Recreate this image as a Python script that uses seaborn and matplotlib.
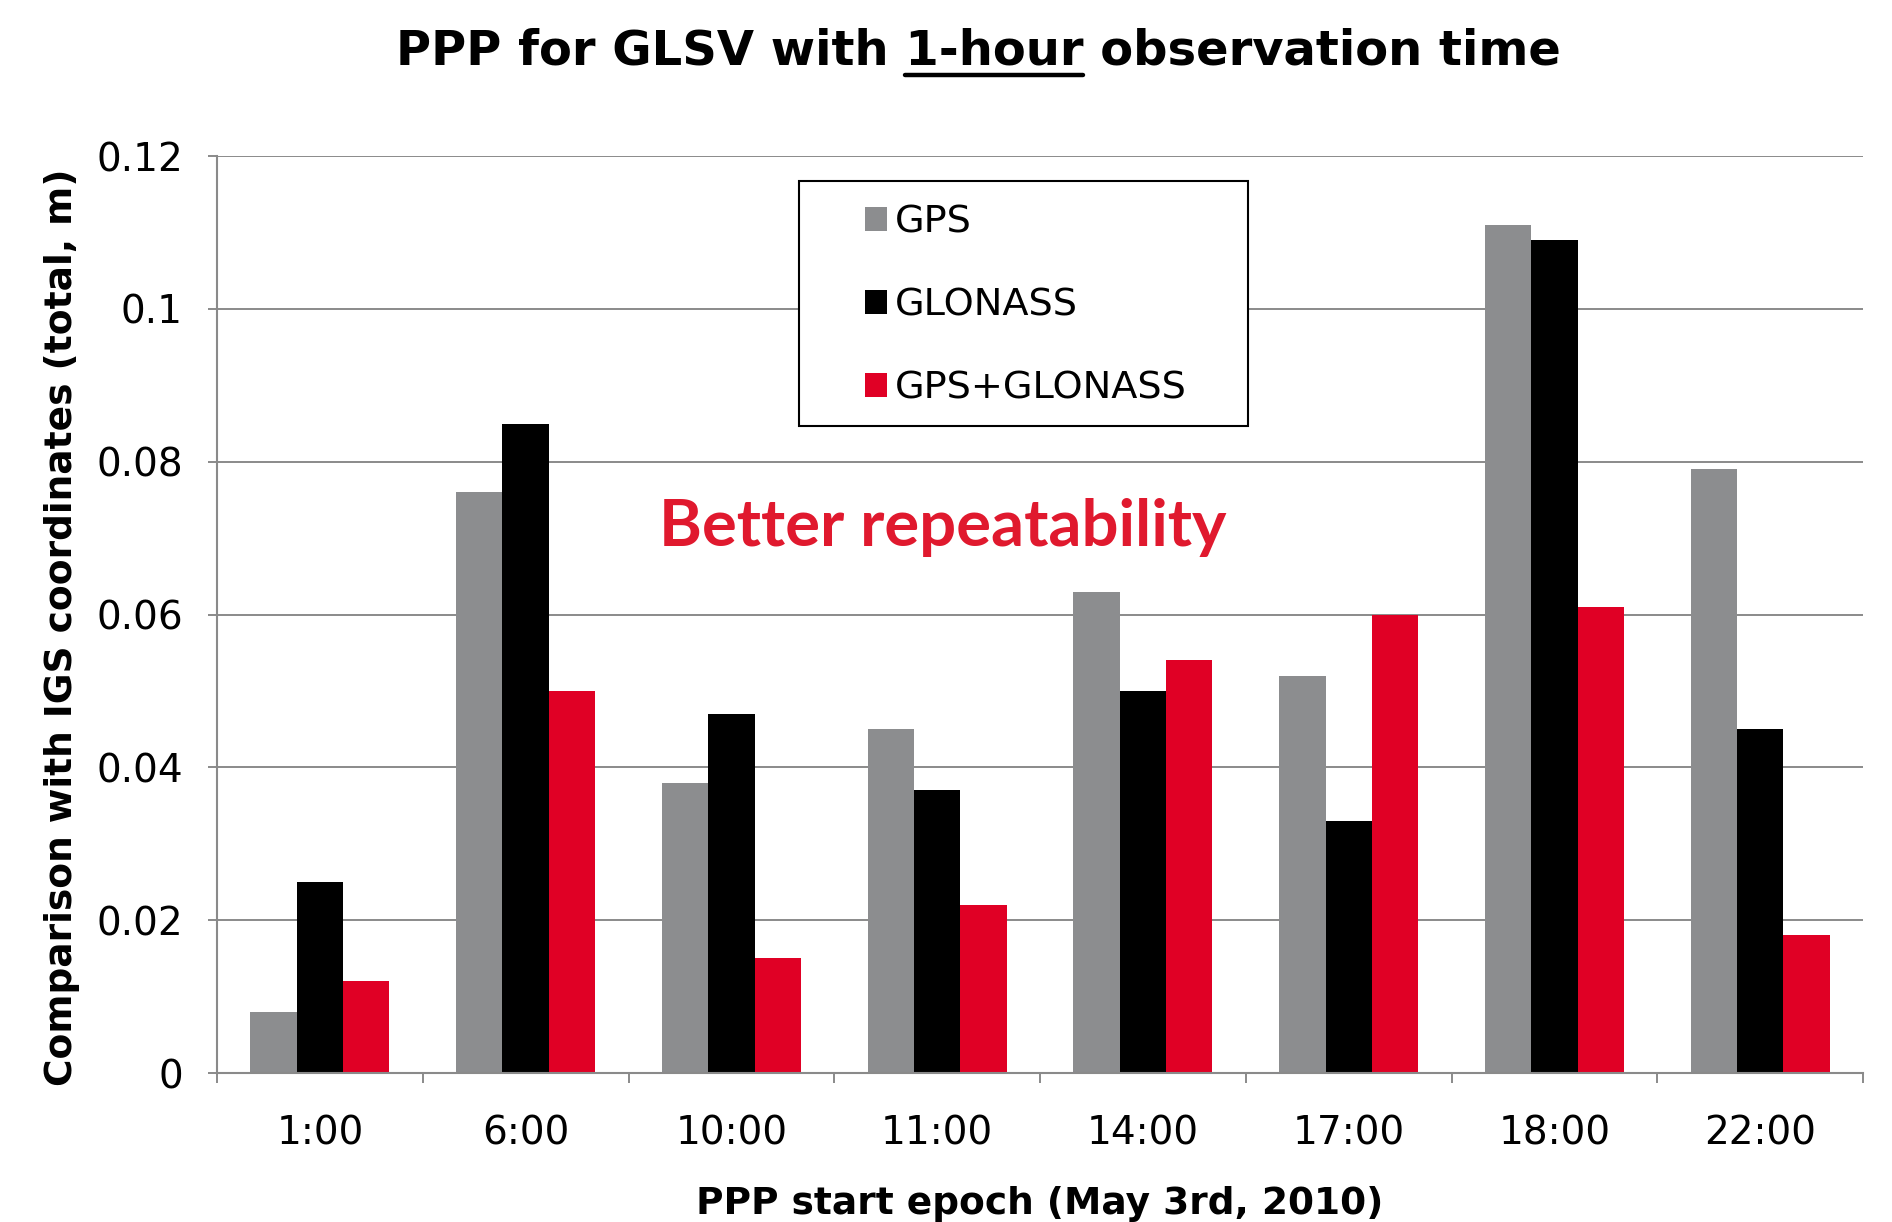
import seaborn as sns
import matplotlib.pyplot as plt
import pandas as pd
from matplotlib.lines import Line2D
from matplotlib.patches import Rectangle

sns.set_theme(style="white")
plt.rcParams["font.family"] = ["DejaVu Sans"]
plt.rcParams["text.color"] = "black"
plt.rcParams["axes.labelcolor"] = "black"

# Values
epochs = ["1:00", "6:00", "10:00", "11:00", "14:00", "17:00", "18:00", "22:00"]
gps = [0.008, 0.076, 0.038, 0.045, 0.063, 0.052, 0.111, 0.079]
glonass = [0.025, 0.085, 0.047, 0.037, 0.050, 0.033, 0.109, 0.045]
gps_glonass = [0.012, 0.050, 0.015, 0.022, 0.054, 0.060, 0.061, 0.018]
systems = ["GPS", "GLONASS", "GPS+GLONASS"]
y_ticks = [0, 0.02, 0.04, 0.06, 0.08, 0.1, 0.12]
y_tick_labels = ["0", "0.02", "0.04", "0.06", "0.08", "0.1", "0.12"]

colors = {"GPS": "#8c8d8f", "GLONASS": "#000000", "GPS+GLONASS": "#e00025"}
grid_col = "#8a8a8a"

# long-form table for seaborn
data = pd.DataFrame({
    "epoch": epochs * 3,
    "value": gps + glonass + gps_glonass,
    "system": [s for s in systems for _ in epochs],
})

fig = plt.figure(figsize=(18.92, 12.22), dpi=100)
ax = fig.add_axes([0.1147, 0.1219, 0.870, 0.7504])

sns.barplot(
    data=data, x="epoch", y="value", hue="system", order=epochs, hue_order=systems,
    palette=colors, saturation=1, width=0.675, gap=0, linewidth=0, ax=ax,
)

ax.set_xlim(-0.5, len(epochs) - 0.5)
ax.set_ylim(0, 0.12)
ax.set_yticks(y_ticks)
ax.set_yticklabels(y_tick_labels)
ax.set_xticks(range(len(epochs)))
ax.set_xticks([i - 0.5 for i in range(len(epochs) + 1)], minor=True)

# gridlines behind bars
ax.set_axisbelow(True)
ax.yaxis.grid(True, color=grid_col, linewidth=1.4)
ax.xaxis.grid(False)

for side in ["top", "right"]:
    ax.spines[side].set_visible(False)
for side in ["left", "bottom"]:
    ax.spines[side].set_color(grid_col)
    ax.spines[side].set_linewidth(1.5)

ax.tick_params(axis="y", which="major", direction="out", length=6.5, width=1.4,
               color=grid_col, pad=18, labelsize=28, labelcolor="black", left=True)
ax.tick_params(axis="x", which="major", length=0, pad=30, labelsize=28, labelcolor="black")
ax.tick_params(axis="x", which="minor", direction="out", length=7, width=1.4,
               color=grid_col, bottom=True)

ax.set_xlabel("PPP start epoch (May 3rd, 2010)", fontsize=27, fontweight="bold", labelpad=24)
ax.set_ylabel("Comparison with IGS coordinates (total, m)", fontsize=27,
              fontweight="bold", labelpad=12)
ax.yaxis.label.set_y(0.486)

# legend: white box drawn separately so padding matches
box = Rectangle((0.3536, 0.7055), 0.2728, 0.2675, transform=ax.transAxes,
                facecolor="white", edgecolor="black", linewidth=1.5, zorder=4)
ax.add_patch(box)
handles, labels = ax.get_legend_handles_labels()
leg = ax.legend(handles, labels, loc="center left", bbox_to_anchor=(0.3937, 0.837),
                frameon=False, fontsize=27.5, handlelength=0.57, handleheight=0.57,
                handletextpad=0.22, labelspacing=1.23, borderpad=0, borderaxespad=0)
leg.set_zorder(5)

# annotation
ax.text(0.2685, 0.595, "Better repeatability", transform=ax.transAxes, ha="left",
        va="center", color="#e0192e", fontsize=47, fontweight="bold", family=["Lato", "DejaVu Sans"])

# title with "1-hour" underlined
title = "PPP for GLSV with 1-hour observation time"
t = fig.text(0.517, 0.958, title, ha="center", va="center", fontsize=34.6, fontweight="bold")
fig.canvas.draw()
r = fig.canvas.get_renderer()
bb = t.get_window_extent(r)
tmp = fig.text(0, 0, "PPP for GLSV with 1-hour", fontsize=34.6, fontweight="bold")
w_pre = tmp.get_window_extent(r).width
tmp.remove()
tmp = fig.text(0, 0, "1-hour", fontsize=34.6, fontweight="bold")
w_u = tmp.get_window_extent(r).width
tmp.remove()
W = fig.bbox.width
x_end = (bb.x0 + w_pre) / W
x_start = (bb.x0 + w_pre - w_u) / W
fig.add_artist(Line2D([x_start, x_end], [0.9386, 0.9386], color="black", linewidth=3.2,
                      transform=fig.transFigure))

plt.savefig("out.png", dpi=100)
